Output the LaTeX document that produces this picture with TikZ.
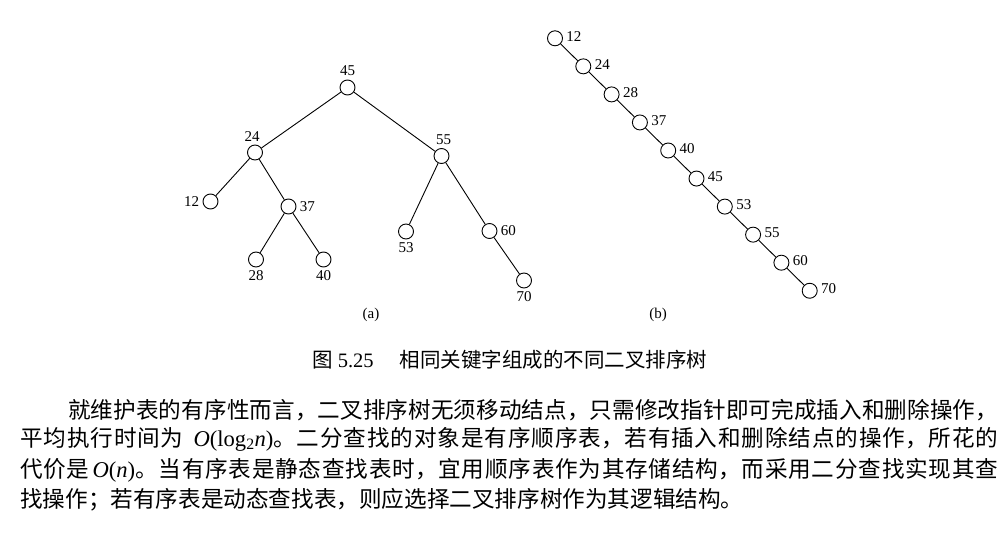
\documentclass[tikz,border=0pt]{standalone}
\usepackage{fontspec}
\usepackage{tikz}
\setmainfont{Liberation Serif}
\newfontfamily\cjk{Noto Sans CJK SC}
\XeTeXlinebreaklocale "zh"
\XeTeXlinebreakskip=0pt plus 1pt
\newcommand{\renglonlleno}[2]{\parbox{#1}{\parfillskip=0pt\relax #2}}

\tikzset{
  vtx/.style={circle, draw, line width=0.9pt, minimum size=15pt, inner sep=0pt},
  rama/.style={line width=0.9pt},
  renglon/.style={anchor=west, inner sep=0pt, font=\fontsize{22.6}{27}\selectfont},
}

\begin{document}
\begin{tikzpicture}[x=1pt, y=-1pt, font=\fontsize{15}{17}\selectfont]
\useasboundingbox (0,0) rectangle (1008,537);

% Árbol (a)
\node[vtx, label=above:45] (a45) at (347.5,87.5) {};
\node[vtx, label={[xshift=-3pt]above:24}] (a24) at (255,152.5) {};
\node[vtx, label={[xshift=2pt]above:55}] (a55) at (441.5,156) {};
\node[vtx, label=left:12] (a12) at (210.5,201.5) {};
\node[vtx, label=right:37] (a37) at (288.5,206.5) {};
\node[vtx, label=below:28] (a28) at (256,259.5) {};
\node[vtx, label=below:40] (a40) at (323.5,259.5) {};
\node[vtx, label=below:53] (a53) at (406,231.5) {};
\node[vtx, label=right:60] (a60) at (489.5,231) {};
\node[vtx, label=below:70] (a70) at (524,280.5) {};
\draw[rama] (a45) -- (a24) (a45) -- (a55);
\draw[rama] (a24) -- (a12) (a24) -- (a37) (a37) -- (a28) (a37) -- (a40);
\draw[rama] (a55) -- (a53) (a55) -- (a60) (a60) -- (a70);
\node (capa) at (371,315) {(a)};

% Árbol (b)
\foreach \k [count=\i from 0] in {12,24,28,37,40,45,53,55,60,70}
  \node[vtx, label={[yshift=2pt]right:\k}] (b\i) at (555+28.3*\i, 38.3+28.05*\i) {};
\foreach \i [count=\j from 1] in {0,...,8}
  \draw[rama] (b\i) -- (b\j);
\node (capb) at (658,315) {(b)};

% Texto
\node[anchor=west, inner sep=0pt, font=\fontsize{20.5}{24}\selectfont] (titulo) at (312,360)
  {{\cjk 图} 5.25\hspace{26pt}{\cjk 相同关键字组成的不同二叉排序树}};
\node[renglon] (l1) at (68,410)
  {\renglonlleno{930pt}{\cjk 就维护表的有序性而言，二叉排序树无须移动结点，只需修改指针即可完成插入和删除操作，}};
\node[renglon] (l2) at (20,439.5)
  {\renglonlleno{978pt}{{\cjk 平均执行时间为}\hspace{10pt}\textit{O}(log\textsubscript{2}\textit{n}){\cjk 。二分查找的对象是有序顺序表，若有插入和删除结点的操作，所花的}}};
\node[renglon] (l3) at (20,470)
  {\renglonlleno{978pt}{{\cjk 代价是}\hspace{3pt}\textit{O}(\textit{n}){\cjk 。当有序表是静态查找表时，宜用顺序表作为其存储结构，而采用二分查找实现其查}}};
\node[renglon] (l4) at (20,499.5)
  {{\cjk 找操作；若有序表是动态查找表，则应选择二叉排序树作为其逻辑结构。}};
\end{tikzpicture}
\end{document}
